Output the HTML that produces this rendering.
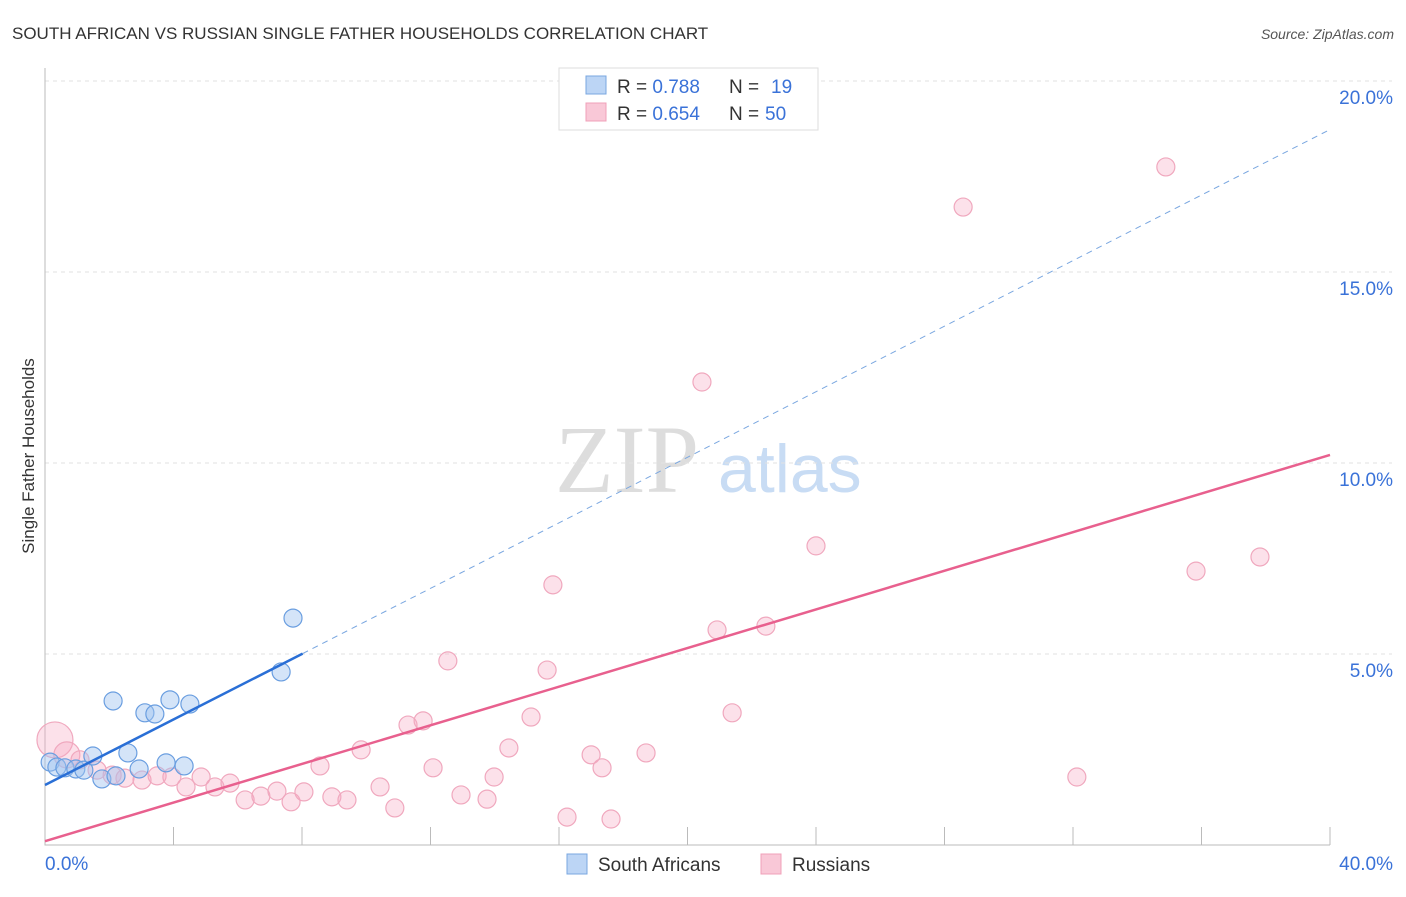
<!DOCTYPE html>
<html><head><meta charset="utf-8"><style>
body{margin:0;background:#fff;font-family:"Liberation Sans",sans-serif}
</style></head><body>
<svg width="1406" height="892" xmlns="http://www.w3.org/2000/svg" style="font-family:'Liberation Sans',sans-serif">
<text x="12" y="39" font-size="17" fill="#333">SOUTH AFRICAN VS RUSSIAN SINGLE FATHER HOUSEHOLDS CORRELATION CHART</text>
<text x="1394" y="39" font-size="14" fill="#555" font-style="italic" text-anchor="end">Source: ZipAtlas.com</text>
<text x="34" y="456" font-size="17" fill="#333" text-anchor="middle" transform="rotate(-90 34 456)">Single Father Households</text>
<text x="555" y="492" font-size="96" fill="#ddd" font-family="Liberation Serif">ZIP</text>
<text x="718" y="492" font-size="68" fill="#c8dcf4">atlas</text>
<g id="grid"></g><g id="axes"></g><g id="marks"></g>
<g>
<rect x="559" y="68" width="259" height="62" fill="#fff" stroke="#ddd"/>
<rect x="586" y="76" width="20" height="18" fill="#bcd5f5" stroke="#7aa7e0"/>
<rect x="586" y="103" width="20" height="18" fill="#f9c8d7" stroke="#f0a0b8"/>
<text x="617" y="93" font-size="19" fill="#333">R = <tspan fill="#3a72d8">0.788</tspan><tspan x="729">N = </tspan><tspan fill="#3a72d8" x="771">19</tspan></text>
<text x="617" y="120" font-size="19" fill="#333">R = <tspan fill="#3a72d8">0.654</tspan><tspan x="729">N = </tspan><tspan fill="#3a72d8" x="765">50</tspan></text>
</g>
<g>
<rect x="567" y="854" width="20" height="20" fill="#bcd5f5" stroke="#7aa7e0"/>
<text x="598" y="871" font-size="19" fill="#333">South Africans</text>
<rect x="761" y="854" width="20" height="20" fill="#f9c8d7" stroke="#f0a0b8"/>
<text x="792" y="871" font-size="19" fill="#333">Russians</text>
</g>
</svg>
<script>
const yTicks=[5,10,15,20];
const yTickLabels=["5.0%","10.0%","15.0%","20.0%"];
const xTicks=[0,4,8,12,16,20,24,28,32,36,40];
const blueX=[0.16,0.37,0.62,0.96,1.21,1.49,1.77,2.12,2.21,2.58,2.93,3.11,3.42,3.77,3.89,4.33,4.51,7.35,7.72];
const blueY=[2.17,2.04,2.02,1.99,1.96,2.33,1.73,3.77,1.81,2.41,1.99,3.46,3.43,2.15,3.80,2.07,3.69,4.53,5.94];
const pinkX=[0.31,0.68,1.09,1.62,2.09,2.49,3.02,3.49,3.95,4.39,4.86,5.29,5.76,6.23,6.72,7.22,7.66,8.06,8.56,8.93,9.40,9.84,10.43,10.89,11.30,11.77,12.08,12.54,12.95,13.76,13.98,14.44,15.13,15.63,15.81,16.25,17.00,17.34,17.62,18.71,20.45,20.92,21.39,22.44,24.00,28.58,32.12,34.89,35.83,37.82];
const pinkY=[2.75,2.36,2.23,1.96,1.83,1.75,1.70,1.81,1.78,1.52,1.78,1.52,1.62,1.18,1.28,1.41,1.13,1.39,2.07,1.26,1.18,2.49,1.52,0.97,3.14,3.25,2.02,4.82,1.31,1.20,1.78,2.54,3.35,4.58,6.81,0.73,2.36,2.02,0.68,2.41,12.12,5.63,3.46,5.73,7.83,16.70,1.78,17.75,7.17,7.54];
const pinkR=[18,13];
const blueFit=[1.57,0.429];
const pinkFit=[0.10,0.2528];
const X=v=>45+v*32.125, Y=v=>845-v*38.2;
const NS="http://www.w3.org/2000/svg";
function mk(t,a,p){const e=document.createElementNS(NS,t);for(const k in a)e.setAttribute(k,a[k]);p.appendChild(e);return e;}
const grid=document.getElementById('grid'),axes=document.getElementById('axes'),marks=document.getElementById('marks');
yTicks.forEach((v,i)=>{
const l=mk('line',{x1:45,x2:1392,y1:Y(v),y2:Y(v),stroke:'#e2e2e2','stroke-dasharray':'4,4'},grid);


const t=mk('text',{x:1393,y:Y(v)+23,'font-size':19,fill:'#3a72d8','text-anchor':'end'},axes);
t.textContent=yTickLabels[i];


});
const ax=mk('path',{d:'M45 68V845H1330',stroke:'#bbb',fill:'none'},axes);


xTicks.forEach(v=>{if(v===0)return;
const l=mk('line',{x1:X(v),x2:X(v),y1:827,y2:845,stroke:'#bbb'},axes);

});
const x0=mk('text',{x:45,y:870,'font-size':19,fill:'#3a72d8'},axes);x0.textContent='0.0%';


const x1=mk('text',{x:1393,y:870,'font-size':19,fill:'#3a72d8','text-anchor':'end'},axes);x1.textContent='40.0%';


pinkX.forEach((v,i)=>{const c=mk('circle',{cx:X(v),cy:Y(pinkY[i]),r:pinkR[i]||9,fill:'rgba(245,170,195,0.35)',stroke:'#f0a8be','stroke-width':1.2},marks);

});
blueX.forEach((v,i)=>{const c=mk('circle',{cx:X(v),cy:Y(blueY[i]),r:9,fill:'rgba(160,195,240,0.45)',stroke:'#6a9ee0','stroke-width':1.2},marks);

});
const bEnd=8.02;
const bl=mk('line',{x1:X(0),y1:Y(blueFit[0]),x2:X(bEnd),y2:Y(blueFit[0]+blueFit[1]*bEnd),stroke:'#2a6fd6','stroke-width':2.5},marks);


const bd=mk('line',{x1:X(bEnd),y1:Y(blueFit[0]+blueFit[1]*bEnd),x2:X(40),y2:Y(blueFit[0]+blueFit[1]*40),stroke:'#7aa7e0','stroke-width':1,'stroke-dasharray':'6,5'},marks);


const pl=mk('line',{x1:X(0),y1:Y(pinkFit[0]),x2:X(40),y2:Y(pinkFit[0]+pinkFit[1]*40),stroke:'#e8608e','stroke-width':2.5},marks);


</script>
</body></html>
